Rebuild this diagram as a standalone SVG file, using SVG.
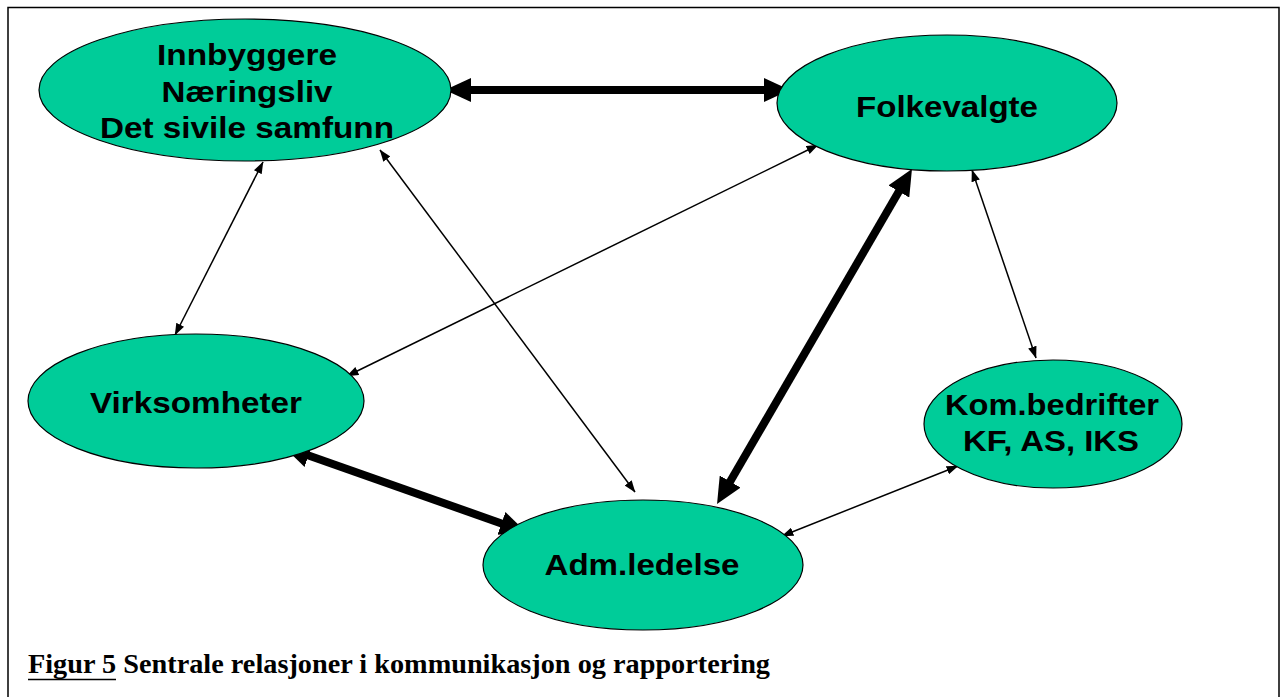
<svg xmlns="http://www.w3.org/2000/svg" width="1282" height="697" viewBox="0 0 1282 697">
<style>
.node ellipse{fill:#00CC99;stroke:#000;stroke-width:1.2}
.lbl{font-family:"Liberation Sans",Arial,sans-serif;font-weight:bold;font-size:29px;fill:#000;text-anchor:middle}
.thick{stroke:#000;stroke-width:8;fill:none;marker-start:url(#hb);marker-end:url(#hb)}
.thin{stroke:#000;stroke-width:1.5;fill:none;marker-start:url(#hs);marker-end:url(#hs)}
.cap{font-family:"Liberation Serif","Times New Roman",serif;font-weight:bold;font-size:27px;fill:#000}
</style>
<defs>
<marker id="hb" markerUnits="userSpaceOnUse" markerWidth="26" markerHeight="24" viewBox="0 0 26 24" refX="6" refY="12" orient="auto-start-reverse"><path d="M0,0 L26,12 L0,24 z" fill="#000"/></marker>
<marker id="hs" markerUnits="userSpaceOnUse" markerWidth="12" markerHeight="9" viewBox="0 0 11 8" refX="10.5" refY="4" orient="auto-start-reverse"><path d="M0,0 L11,4 L0,8 z" fill="#000"/></marker>
</defs>
<rect x="0" y="0" width="1282" height="697" fill="#fff"/>
<path d="M8,697 V7.5 H1279 V697" fill="none" stroke="#000" stroke-width="1.5"/>
<g id="connectors">
<line class="thick" x1="465" y1="90" x2="770" y2="90"/>
<line class="thick" x1="901.9" y1="186.3" x2="727.1" y2="486.7"/>
<line class="thick" x1="302.9" y1="453.6" x2="507.1" y2="525.4"/>
<line class="thin" x1="263" y1="162" x2="175" y2="335"/>
<line class="thin" x1="380" y1="150" x2="635" y2="492"/>
<line class="thin" x1="818" y1="145" x2="347" y2="376"/>
<line class="thin" x1="972" y1="170" x2="1036" y2="358"/>
<line class="thin" x1="958" y1="466" x2="782" y2="536"/>
</g>
<g id="innbyggere" class="node">
<ellipse cx="245" cy="90" rx="206" ry="71"/>
<text class="lbl" x="247" y="65" textLength="180" lengthAdjust="spacingAndGlyphs">Innbyggere</text>
<text class="lbl" x="247" y="102" textLength="171" lengthAdjust="spacingAndGlyphs">Næringsliv</text>
<text class="lbl" x="247" y="138" textLength="294" lengthAdjust="spacingAndGlyphs">Det sivile samfunn</text>
</g>
<g id="folkevalgte" class="node">
<ellipse cx="947" cy="103" rx="170" ry="68"/>
<text class="lbl" x="947" y="117" textLength="182" lengthAdjust="spacingAndGlyphs">Folkevalgte</text>
</g>
<g id="virksomheter" class="node">
<ellipse cx="196" cy="401" rx="168" ry="67"/>
<text class="lbl" x="196" y="413" textLength="212" lengthAdjust="spacingAndGlyphs">Virksomheter</text>
</g>
<g id="kombedrifter" class="node">
<ellipse cx="1053" cy="424" rx="129" ry="64"/>
<text class="lbl" x="1052" y="415" textLength="214" lengthAdjust="spacingAndGlyphs">Kom.bedrifter</text>
<text class="lbl" x="1051" y="451" textLength="176" lengthAdjust="spacingAndGlyphs">KF, AS, IKS</text>
</g>
<g id="admledelse" class="node">
<ellipse cx="643" cy="565" rx="160" ry="65"/>
<text class="lbl" x="642" y="575" textLength="195" lengthAdjust="spacingAndGlyphs">Adm.ledelse</text>
</g>
<g id="caption">
<text class="cap" x="28" y="673" textLength="742" lengthAdjust="spacingAndGlyphs">Figur 5 Sentrale relasjoner i kommunikasjon og rapportering</text>
<line x1="28" y1="679.5" x2="116" y2="679.5" stroke="#000" stroke-width="1.6"/>
</g>
</svg>
